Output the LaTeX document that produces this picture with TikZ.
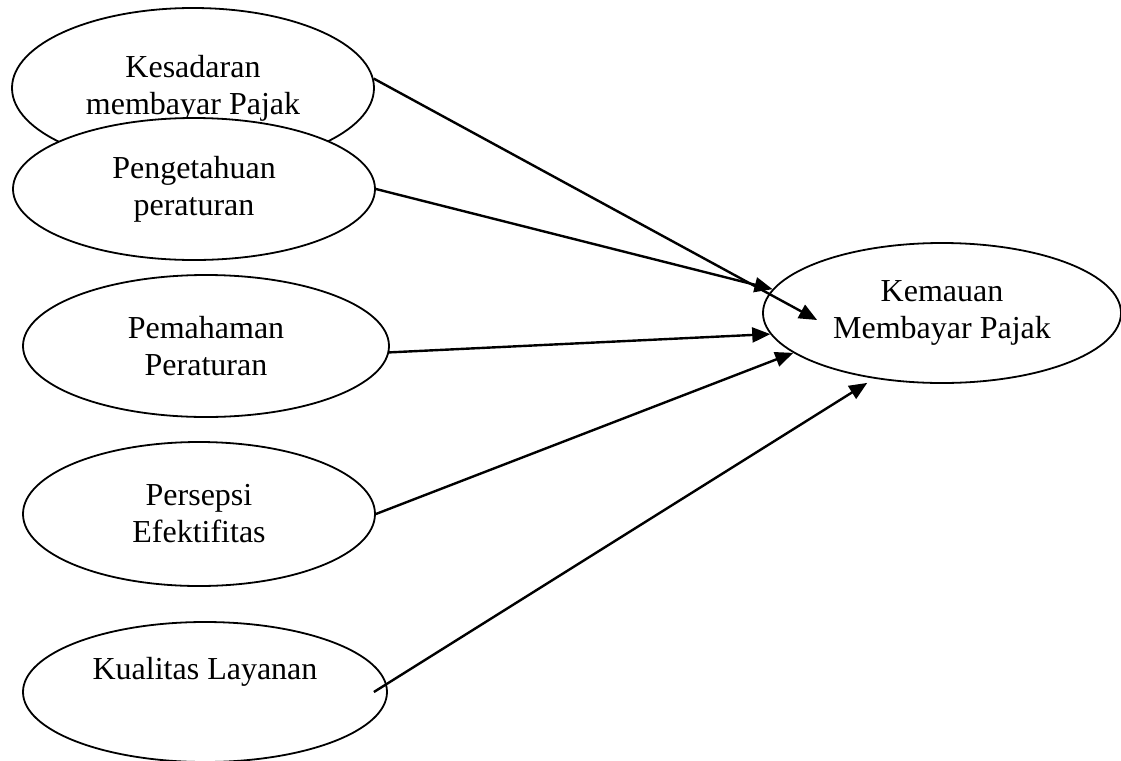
\documentclass[tikz,border=0pt]{standalone}
\usepackage{fontspec}
\setmainfont{Liberation Serif}
\usetikzlibrary{positioning, shapes.geometric, arrows.meta}

\tikzset{
  var/.style={ellipse, draw, line width=0.9pt, fill=white, inner sep=0pt,
    align=center, font=\fontsize{16}{18.5}\selectfont},
  panah/.style={-{Triangle[length=9pt,width=7.5pt]}, line width=1.2pt}
}

\begin{document}
\begin{tikzpicture}[x=0.5pt, y=-0.5pt]
\useasboundingbox (0,0) rectangle (1121,761);
% independent variables
\node[var, minimum width=181pt, minimum height=80pt] (e1) at (193,88) {Kesadaran\\membayar Pajak};
\node[var, minimum width=181pt, minimum height=71pt] (e2) at (194,189) {Pengetahuan\\peraturan};
\node[var, minimum width=183pt, minimum height=71pt] (e3) at (206,346) {Pemahaman\\Peraturan};
\node[var, minimum width=176pt, minimum height=72pt] (e4) at (199,514) {Persepsi\\Efektifitas};
\node[var, minimum width=182pt, minimum height=70pt] (e5) at (205,692) {};
\node[font=\fontsize{16}{18.5}\selectfont] (t5) at ([yshift=10pt]e5.center) {Kualitas Layanan};
% dependent variable
\node[var, minimum width=179pt, minimum height=70pt] (k) at (942,313) {Kemauan\\Membayar Pajak};

% arrows into Kemauan
\draw[panah] (e1.3) -- ([shift={(55,7)}]k.west);
\foreach \s/\t in {e2.east/k.172, e3.-2/k.187, e4.east/k.195}{
  \draw[panah] (\s) -- (\t);
}
\draw[panah, shorten >=4pt] ([xshift=-7pt]e5.east) -- (k.224);
\end{tikzpicture}
\end{document}
